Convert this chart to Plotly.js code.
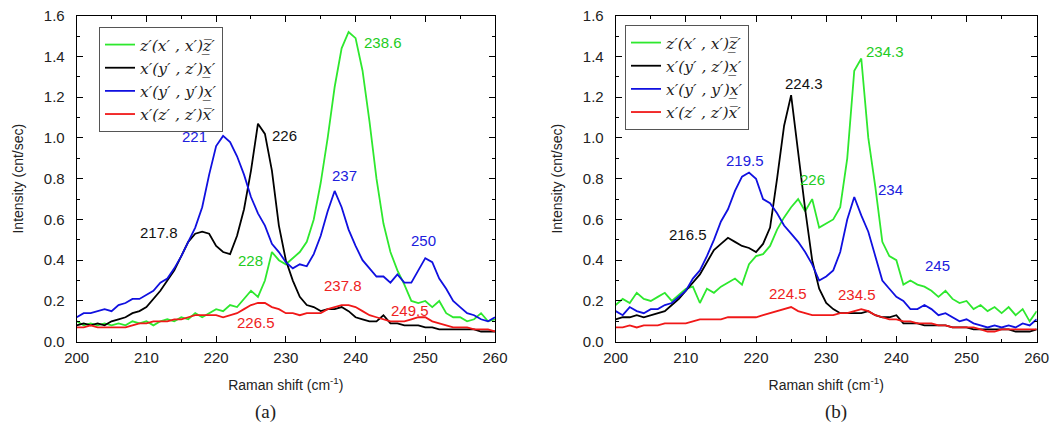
<!DOCTYPE html>
<html>
<head>
<meta charset="utf-8">
<script src="https://cdn.plot.ly/plotly-3.0.1.min.js"></script>
<style>html,body{margin:0;padding:0;background:#fff;}#chart{width:1057px;height:442px;}</style>
</head>
<body>
<div id="chart"></div>
<script>
// Raman shift axis (cm^-1)
const ramanShift = [200,201,202,203,204,205,206,207,208,209,210,211,212,213,214,215,216,217,218,219,220,221,222,223,224,225,226,227,228,229,230,231,232,233,234,235,236,237,238,239,240,241,242,243,244,245,246,247,248,249,250,251,252,253,254,255,256,257,258,259,260];

// Panel (a)
const aGreen = [0.10,0.08,0.09,0.08,0.09,0.08,0.09,0.08,0.10,0.09,0.10,0.08,0.10,0.11,0.10,0.12,0.11,0.14,0.12,0.14,0.16,0.15,0.18,0.17,0.21,0.25,0.22,0.30,0.44,0.40,0.38,0.41,0.44,0.49,0.60,0.78,1.00,1.25,1.44,1.52,1.49,1.33,1.08,0.80,0.58,0.44,0.35,0.28,0.20,0.19,0.20,0.17,0.20,0.14,0.12,0.12,0.10,0.11,0.14,0.10,0.11];
const aBlack = [0.08,0.09,0.08,0.09,0.08,0.10,0.11,0.12,0.14,0.15,0.17,0.21,0.25,0.30,0.35,0.42,0.49,0.53,0.54,0.53,0.47,0.44,0.43,0.52,0.65,0.84,1.07,1.02,0.84,0.57,0.40,0.30,0.22,0.18,0.17,0.15,0.16,0.16,0.17,0.15,0.12,0.11,0.10,0.10,0.13,0.09,0.09,0.08,0.08,0.08,0.07,0.07,0.06,0.06,0.06,0.06,0.06,0.06,0.05,0.05,0.05];
const aBlue = [0.12,0.14,0.14,0.15,0.16,0.15,0.18,0.19,0.21,0.21,0.23,0.25,0.29,0.31,0.36,0.42,0.49,0.56,0.66,0.82,0.96,1.01,0.98,0.91,0.82,0.71,0.63,0.57,0.48,0.44,0.39,0.36,0.38,0.37,0.43,0.52,0.64,0.74,0.66,0.55,0.47,0.40,0.36,0.32,0.32,0.29,0.33,0.29,0.29,0.35,0.41,0.39,0.31,0.26,0.20,0.17,0.14,0.13,0.11,0.10,0.12];
const aRed = [0.07,0.07,0.08,0.07,0.07,0.07,0.07,0.07,0.08,0.09,0.09,0.10,0.10,0.10,0.11,0.11,0.12,0.13,0.13,0.13,0.13,0.12,0.13,0.14,0.16,0.18,0.19,0.19,0.17,0.16,0.14,0.14,0.13,0.14,0.14,0.14,0.16,0.17,0.18,0.18,0.17,0.15,0.13,0.12,0.11,0.10,0.10,0.10,0.11,0.12,0.12,0.10,0.09,0.08,0.07,0.07,0.07,0.06,0.06,0.06,0.05];

// Panel (b)
const bGreen = [0.18,0.21,0.19,0.24,0.21,0.20,0.22,0.24,0.20,0.23,0.26,0.27,0.19,0.26,0.24,0.27,0.29,0.31,0.28,0.38,0.42,0.43,0.47,0.55,0.61,0.66,0.70,0.64,0.70,0.56,0.58,0.60,0.66,0.90,1.33,1.39,1.00,0.76,0.49,0.42,0.40,0.28,0.30,0.28,0.27,0.25,0.22,0.25,0.21,0.19,0.20,0.16,0.18,0.15,0.17,0.14,0.17,0.13,0.16,0.10,0.15];
const bBlack = [0.11,0.12,0.12,0.13,0.12,0.13,0.14,0.15,0.18,0.21,0.25,0.29,0.33,0.39,0.45,0.48,0.51,0.49,0.47,0.46,0.44,0.48,0.56,0.80,1.06,1.21,0.93,0.65,0.40,0.26,0.19,0.16,0.14,0.14,0.14,0.14,0.15,0.13,0.12,0.12,0.13,0.09,0.09,0.09,0.08,0.08,0.08,0.08,0.07,0.07,0.07,0.06,0.06,0.06,0.06,0.06,0.06,0.05,0.05,0.05,0.06];
const bBlue = [0.15,0.13,0.17,0.15,0.14,0.16,0.16,0.18,0.19,0.22,0.25,0.31,0.35,0.42,0.50,0.59,0.65,0.74,0.81,0.83,0.80,0.70,0.68,0.63,0.57,0.53,0.49,0.44,0.38,0.30,0.32,0.35,0.44,0.60,0.71,0.62,0.54,0.42,0.30,0.26,0.22,0.20,0.16,0.16,0.18,0.16,0.13,0.14,0.12,0.10,0.11,0.09,0.08,0.07,0.08,0.07,0.08,0.07,0.09,0.08,0.11];
const bRed = [0.07,0.07,0.08,0.07,0.08,0.08,0.08,0.09,0.09,0.09,0.09,0.10,0.11,0.11,0.11,0.11,0.12,0.12,0.12,0.12,0.12,0.13,0.14,0.15,0.16,0.17,0.15,0.14,0.13,0.13,0.13,0.13,0.14,0.14,0.15,0.16,0.15,0.13,0.12,0.11,0.11,0.10,0.10,0.09,0.09,0.09,0.08,0.08,0.07,0.07,0.07,0.07,0.06,0.05,0.05,0.06,0.06,0.06,0.06,0.06,0.06];

// Legend labels
const seriesNames = [
  "z\u2032(x\u2032 , x\u2032)z\u0305\u0332\u2032",
  "x\u2032(y\u2032 , z\u2032)x\u0332\u2032",
  "x\u2032(y\u2032 , y\u2032)x\u0332\u2032",
  "x\u2032(z\u2032 , z\u2032)x\u0305\u2032"
];
const seriesColors = ["#2ee82e", "#000000", "#1010e0", "#f01818"];

// Peak labels
const aPeakText = ["238.6","226","221","217.8","228","237","250","237.8","249.5","226.5"];
const aPeakX    = [244.0, 229.8, 216.9, 211.8, 224.9, 238.35, 249.8, 238.2, 247.8, 225.7];
const aPeakY    = [1.466, 1.014, 1.006, 0.537, 0.40, 0.818, 0.496, 0.278, 0.155, 0.093];
const aPeakSeries = [0,1,2,1,0,2,2,3,3,3];
const bPeakText = ["234.3","224.3","219.5","226","234","216.5","245","224.5","234.5"];
const bPeakX    = [238.4, 226.9, 218.4, 228.1, 239.2, 210.3, 245.9, 224.6, 234.4];
const bPeakY    = [1.423, 1.268, 0.888, 0.797, 0.748, 0.524, 0.376, 0.237, 0.234];
const bPeakSeries = [0,1,2,0,2,1,2,3,3];

const labelColors = ["#22cc22", "#111111", "#2020dd", "#ee2222"];

const aSeries = [aGreen, aBlack, aBlue, aRed];
const bSeries = [bGreen, bBlack, bBlue, bRed];

const traces = [];
aSeries.forEach((ys, i) => traces.push({
  x: ramanShift, y: ys, type: 'scatter', mode: 'lines', name: seriesNames[i],
  line: {color: seriesColors[i], width: 1.8}, xaxis: 'x', yaxis: 'y', legend: 'legend'
}));
bSeries.forEach((ys, i) => traces.push({
  x: ramanShift, y: ys, type: 'scatter', mode: 'lines', name: seriesNames[i],
  line: {color: seriesColors[i], width: 1.8}, xaxis: 'x2', yaxis: 'y2', legend: 'legend2'
}));

const annotations = [];
aPeakText.forEach((t, i) => annotations.push({
  text: t, x: aPeakX[i], y: aPeakY[i], xref: 'x', yref: 'y', showarrow: false,
  xanchor: 'center', yanchor: 'middle',
  font: {family: 'Liberation Sans, Arial', size: 15, color: labelColors[aPeakSeries[i]]}
}));
bPeakText.forEach((t, i) => annotations.push({
  text: t, x: bPeakX[i], y: bPeakY[i], xref: 'x2', yref: 'y2', showarrow: false,
  xanchor: 'center', yanchor: 'middle',
  font: {family: 'Liberation Sans, Arial', size: 15, color: labelColors[bPeakSeries[i]]}
}));
annotations.push({text: '(a)', x: 265/1057, y: 1 - 412/442, xref: 'paper', yref: 'paper', showarrow: false,
  xanchor: 'center', yanchor: 'middle',
  font: {family: 'Liberation Serif, Times New Roman', size: 19, color: '#222'}});
annotations.push({text: '(b)', x: 836/1057, y: 1 - 412/442, xref: 'paper', yref: 'paper', showarrow: false,
  xanchor: 'center', yanchor: 'middle',
  font: {family: 'Liberation Serif, Times New Roman', size: 19, color: '#222'}});

const tickFont = {family: 'Liberation Sans, Arial', size: 15, color: '#222'};
const titleFont = {family: 'Liberation Sans, Arial', size: 14, color: '#222'};

function xAxis(domain, anchor) {
  return {
    domain: domain, anchor: anchor, range: [200, 260], dtick: 10, tick0: 200,
    ticks: 'inside', ticklen: 6, tickwidth: 1, tickcolor: '#000',
    minor: {dtick: 5, ticks: 'inside', ticklen: 3, tickcolor: '#000', showgrid: false},
    showline: true, linecolor: '#000', linewidth: 1, mirror: 'ticks', showgrid: false, zeroline: false,
    tickfont: tickFont, ticklabelstandoff: 2,
    title: {text: 'Raman shift (cm<sup>-1</sup>)', font: titleFont, standoff: 15}
  };
}
function yAxis(domain, anchor) {
  return {
    domain: domain, anchor: anchor, range: [0, 1.6], dtick: 0.2, tick0: 0, tickformat: '.1f',
    ticks: 'inside', ticklen: 6, tickwidth: 1, tickcolor: '#000',
    minor: {dtick: 0.1, ticks: 'inside', ticklen: 3, tickcolor: '#000', showgrid: false},
    showline: true, linecolor: '#000', linewidth: 1, mirror: 'ticks', showgrid: false, zeroline: false,
    tickfont: tickFont, ticklabelstandoff: 8,
    title: {text: 'Intensity (cnt/sec)', font: titleFont, standoff: 16}
  };
}

const legendCommon = {
  xanchor: 'left', yanchor: 'top', bgcolor: '#fff', bordercolor: '#555', borderwidth: 1,
  font: {family: 'DejaVu Serif', size: 15.5, style: 'italic', color: '#222'},
  tracegroupgap: 0, itemwidth: 30
};

const yDom = [1 - 341.7/442, 1 - 15.7/442];
const layout = {
  width: 1057, height: 442,
  margin: {l: 0, r: 0, t: 0, b: 0},
  paper_bgcolor: '#fff', plot_bgcolor: '#fff',
  xaxis: xAxis([76.7/1057, 495/1057], 'y'),
  yaxis: yAxis(yDom, 'x'),
  xaxis2: xAxis([615.7/1057, 1036.7/1057], 'y2'),
  yaxis2: yAxis(yDom, 'x2'),
  legend: Object.assign({x: 99/1057, y: 1 - 27/442}, legendCommon),
  legend2: Object.assign({x: 625/1057, y: 1 - 25/442}, legendCommon),
  annotations: annotations,
  showlegend: true
};

Plotly.newPlot('chart', traces, layout, {displayModeBar: false, staticPlot: true});
</script>
</body>
</html>
